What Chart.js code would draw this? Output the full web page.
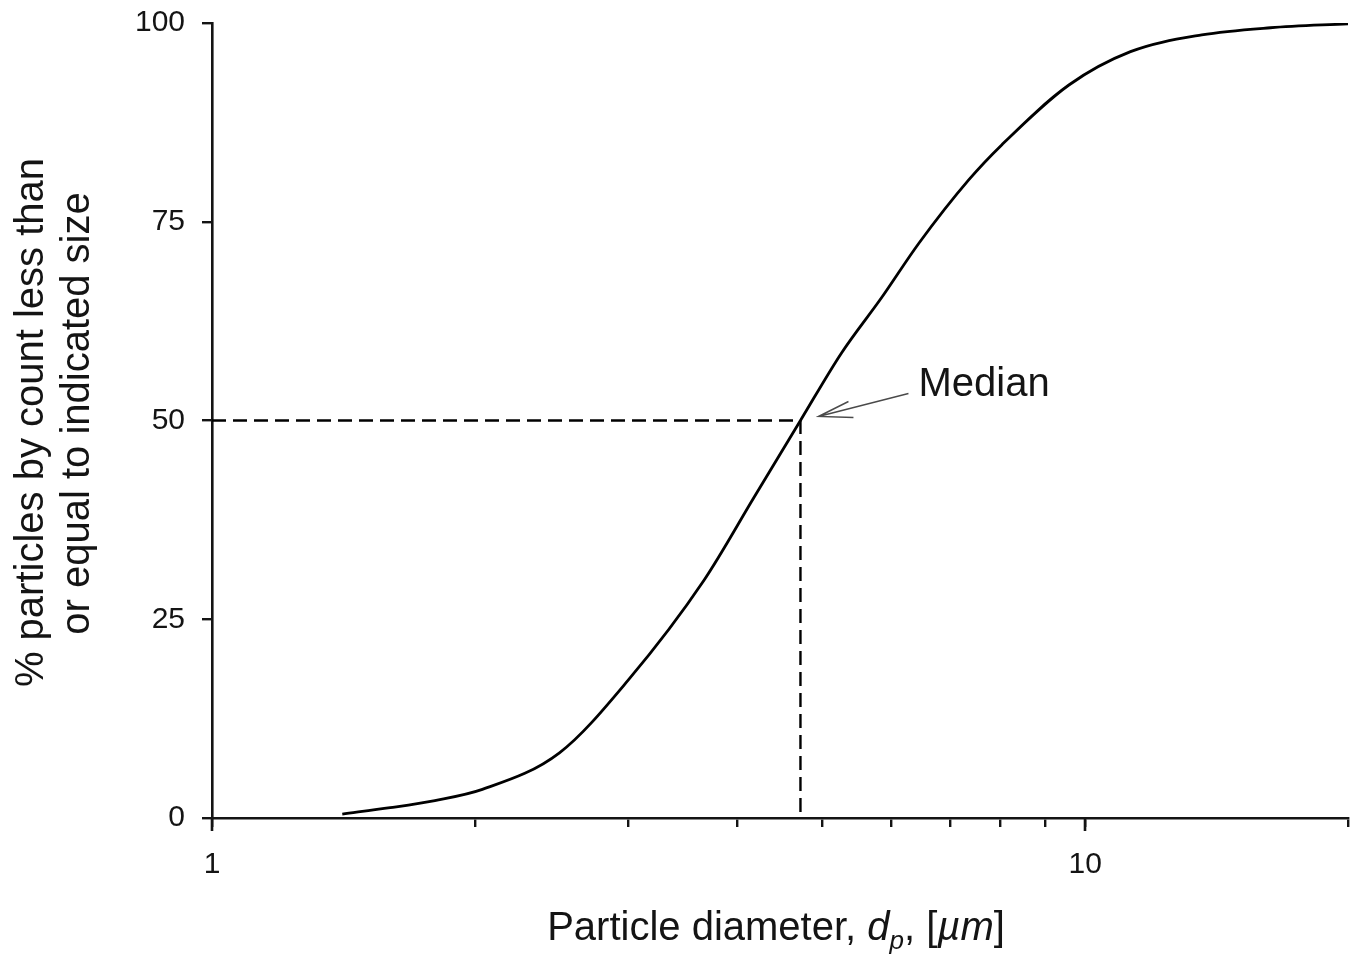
<!DOCTYPE html>
<html>
<head>
<meta charset="utf-8">
<title>Cumulative particle size distribution</title>
<script src="https://cdn.jsdelivr.net/npm/chart.js@4.4.1/dist/chart.umd.min.js"></script>
<style>
  html, body { margin: 0; padding: 0; background: #ffffff; }
  #wrap { width: 1360px; height: 960px; position: relative; }
</style>
</head>
<body>
<div id="wrap"><canvas id="chart" width="1360" height="960"></canvas></div>
<script>
// Cumulative distribution by count: particle diameter (µm) vs % less than or equal
const diameters     = [1.41, 1.6, 1.8, 2.04, 2.5, 3.0, 3.66, 4.18, 4.72, 5.26, 5.85, 6.45, 7.36, 8.03, 9.58, 11.27, 13.6, 16.3, 20];
const cumulativePct = [0.5,  1.3, 2.2, 3.6,  8.2, 17.4, 29.9, 40.4, 50,  58.5, 65.5, 72.3, 80.3, 84.7, 92.2, 96.4,  98.5, 99.4, 99.9];

// Median marker
const medianDiameter = 4.72;
const medianPct = 50;
const medianLabel = 'Median';

// Axes
const xMin = 1, xMax = 20;
const xTickValues = [1, 2, 3, 4, 5, 6, 7, 8, 9, 10, 20];
const xLabelledTicks = [1, 10];
const yTickValues = [0, 25, 50, 75, 100];
const yTitleLines = ['% particles by count less than', 'or equal to indicated size'];

const FONT = '"Liberation Sans", Arial, Helvetica, sans-serif';
const INK = '#141414';

const curve = diameters.map((d, i) => ({ x: d, y: cumulativePct[i] }));
const medianGuide = [
  { x: xMin, y: medianPct },
  { x: medianDiameter, y: medianPct },
  { x: medianDiameter, y: 0 }
];

// Extra drawing: long major ticks, axis titles, median callout
const decorations = {
  id: 'decorations',
  afterDraw(chart) {
    const { ctx, chartArea, scales } = chart;
    const xs = scales.x, ys = scales.y;
    ctx.save();

    // longer ticks at the decades
    ctx.strokeStyle = INK;
    ctx.lineWidth = 2.6;
    xLabelledTicks.forEach(v => {
      const px = Math.round(xs.getPixelForValue(v));
      ctx.beginPath();
      ctx.moveTo(px, chartArea.bottom);
      ctx.lineTo(px, chartArea.bottom + 13);
      ctx.stroke();
    });

    // y-axis title (two rotated lines)
    ctx.fillStyle = INK;
    ctx.textAlign = 'center';
    ctx.textBaseline = 'alphabetic';
    ctx.font = '40px ' + FONT;
    const yMid = (chartArea.top + chartArea.bottom) / 2;
    const baseX = [43, 89];
    const centreShift = [2, -7];
    yTitleLines.forEach((line, i) => {
      ctx.save();
      ctx.translate(baseX[i], yMid + centreShift[i]);
      ctx.rotate(-Math.PI / 2);
      ctx.fillText(line, 0, 0);
      ctx.restore();
    });

    // x-axis title with italic d_p and µm
    const parts = [
      { t: 'Particle diameter, ', f: '40px ' + FONT, dy: 0 },
      { t: 'd', f: 'italic 40px ' + FONT, dy: 0 },
      { t: 'p', f: 'italic 26px ' + FONT, dy: 9 },
      { t: ', [', f: '40px ' + FONT, dy: 0 },
      { t: '\u00B5m', f: 'italic 40px ' + FONT, dy: 0 },
      { t: ']', f: '40px ' + FONT, dy: 0 }
    ];
    let total = 0;
    parts.forEach(p => { ctx.font = p.f; p.w = ctx.measureText(p.t).width; total += p.w; });
    let cx = 776 - total / 2;
    const titleBase = 940;
    ctx.textAlign = 'left';
    parts.forEach(p => {
      ctx.font = p.f;
      ctx.fillText(p.t, cx, titleBase + p.dy);
      cx += p.w;
    });

    // median callout
    const mx = xs.getPixelForValue(medianDiameter);
    const my = ys.getPixelForValue(medianPct);
    const tip = { x: mx + 18, y: my - 4 };
    const tail = { x: mx + 108, y: my - 27 };
    ctx.strokeStyle = '#4a4a4a';
    ctx.lineWidth = 1.4;
    ctx.beginPath();
    ctx.moveTo(tail.x, tail.y);
    ctx.lineTo(tip.x, tip.y);
    ctx.moveTo(tip.x + 30, tip.y - 15);
    ctx.lineTo(tip.x, tip.y);
    ctx.lineTo(tip.x + 35, tip.y + 1);
    ctx.stroke();
    ctx.fillStyle = INK;
    ctx.font = '40px ' + FONT;
    ctx.fillText(medianLabel, mx + 118, my - 25);

    ctx.restore();
  }
};

new Chart(document.getElementById('chart'), {
  type: 'line',
  data: {
    datasets: [
      {
        label: 'Cumulative %',
        data: curve,
        borderColor: '#000000',
        borderWidth: 2.8,
        pointRadius: 0,
        cubicInterpolationMode: 'monotone',
        fill: false
      },
      {
        label: 'Median guide',
        data: medianGuide,
        borderColor: '#000000',
        borderWidth: 2.4,
        borderDash: [14, 7],
        pointRadius: 0,
        tension: 0,
        fill: false
      }
    ]
  },
  options: {
    responsive: false,
    devicePixelRatio: 1,
    animation: false,
    layout: { padding: { top: 23, right: 12, left: 0, bottom: 0 } },
    plugins: { legend: { display: false }, tooltip: { enabled: false } },
    scales: {
      x: {
        type: 'logarithmic',
        min: xMin,
        max: xMax,
        afterBuildTicks(scale) { scale.ticks = xTickValues.map(v => ({ value: v })); },
        afterFit(scale) {
          scale.height = 142;
          scale.paddingLeft = 0;
          scale.paddingRight = 0;
        },
        border: { display: true, color: INK, width: 2.6 },
        grid: { display: true, drawOnChartArea: false, drawTicks: true, tickLength: 9, color: INK, lineWidth: 2.4 },
        ticks: {
          autoSkip: false,
          maxRotation: 0,
          padding: 20,
          color: INK,
          font: { family: FONT, size: 30 },
          callback: v => (xLabelledTicks.includes(v) ? String(v) : '')
        }
      },
      y: {
        type: 'linear',
        min: 0,
        max: 100,
        afterBuildTicks(scale) { scale.ticks = yTickValues.map(v => ({ value: v })); },
        afterFit(scale) {
          scale.width = 212;
          scale.paddingTop = 0;
          scale.paddingBottom = 0;
        },
        border: { display: true, color: INK, width: 2.6 },
        grid: { display: true, drawOnChartArea: false, drawTicks: true, tickLength: 10, color: INK, lineWidth: 2.4 },
        ticks: {
          padding: 17,
          color: INK,
          font: { family: FONT, size: 30 }
        }
      }
    }
  },
  plugins: [decorations]
});
</script>
</body>
</html>
